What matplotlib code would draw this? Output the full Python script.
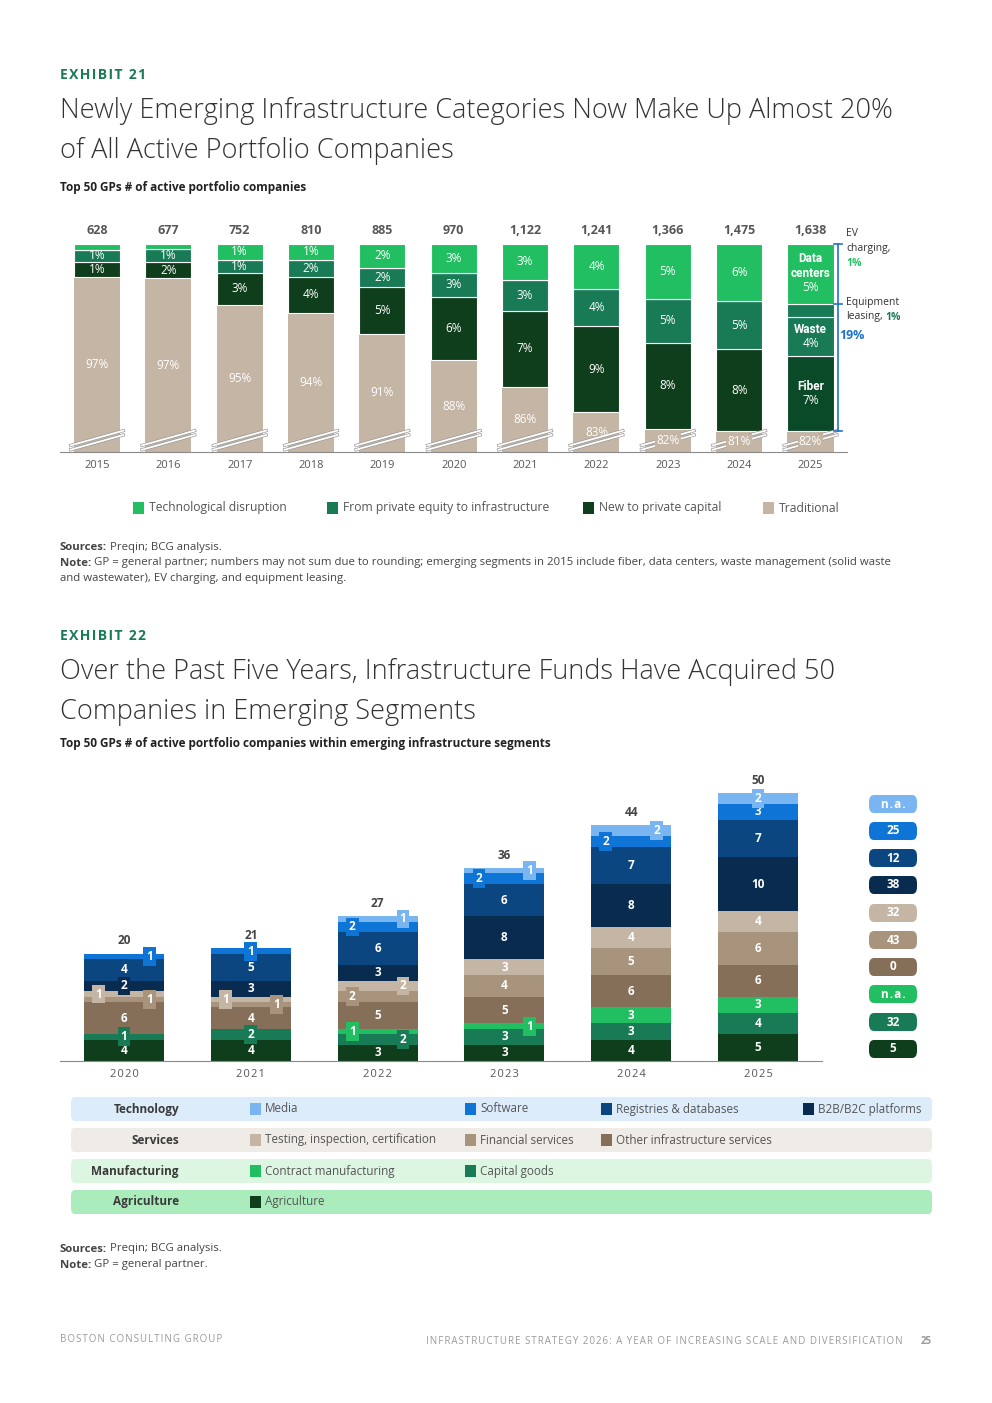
import matplotlib
matplotlib.use("Agg")
import matplotlib.pyplot as plt
from matplotlib.patches import Rectangle, FancyBboxPatch
import matplotlib.patheffects as pe

plt.rcParams['font.family'] = ['Open Sans', 'DejaVu Sans']

W, H = 992, 1403

# ---- Exhibit 21 data (share of active portfolio companies, %) ----
years21 = ['2015', '2016', '2017', '2018', '2019', '2020', '2021', '2022', '2023', '2024', '2025']
totals21 = ['628', '677', '752', '810', '885', '970', '1,122', '1,241', '1,366', '1,475', '1,638']
tech_pct = [0.6, 0.5, 1.6, 1.6, 2.4, 2.9, 3.65, 4.6, 5.55, 5.8, 6.1]
pe_pct = [1.2, 1.3, 1.35, 1.7, 2.0, 2.5, 3.15, 3.7, 4.5, 4.9, 4.0]
equip_pct = [0, 0, 0, 0, 0, 0, 0, 0, 0, 0, 1.3]   # equipment leasing, shown only in 2025
new_pct = [1.5, 1.7, 3.2, 3.75, 4.7, 6.4, 7.7, 8.8, 8.7, 8.25, 7.6]
trad_lbl = ['97%', '97%', '95%', '94%', '91%', '88%', '86%', '83%', '82%', '81%', '82%']
tech_lbl = ['', '', '1%', '1%', '2%', '3%', '3%', '4%', '5%', '6%', '5%']
pe_lbl = ['1%', '1%', '1%', '2%', '2%', '3%', '3%', '4%', '5%', '5%', '4%']
new_lbl = ['1%', '2%', '3%', '4%', '5%', '6%', '7%', '9%', '8%', '8%', '7%']
names_2025 = {'tech': 'Data\ncenters', 'pe': 'Waste', 'new': 'Fiber'}

# ---- Exhibit 22 data (# of companies) ----
years22 = ['2020', '2021', '2022', '2023', '2024', '2025']
agriculture = [4, 4, 3, 3, 4, 5]
capital_goods = [1, 2, 2, 3, 3, 4]
contract_mfg = [0, 0, 1, 1, 3, 3]
other_services = [6, 4, 5, 5, 6, 6]
financial = [1, 1, 2, 4, 5, 6]
testing = [1, 1, 2, 3, 4, 4]
b2b = [2, 3, 3, 8, 8, 10]
registries = [4, 5, 6, 6, 7, 7]
software = [1, 1, 2, 2, 2, 3]
media = [0, 0, 1, 1, 2, 2]
growth = ['5', '32', 'n.a.', '0', '43', '32', '38', '12', '25', 'n.a.']  # bottom to top

GREEN = '#21bf61'
TEAL = '#197a56'
DKGREEN = '#0e3e1b'
BEIGE = '#c4b5a5'
GREY = '#575757'
BLUE = '#1e73c8'

fig = plt.figure(figsize=(W / 100, H / 100), dpi=100)
renderer = fig.canvas.get_renderer()


def fy(py):
    return 1 - py / H


def fx(px):
    return px / W


def ftext(px, py, s, **kw):
    kw.setdefault('va', 'center')
    kw.setdefault('color', '#333333')
    return fig.text(fx(px), fy(py), s, **kw)


def spaced(s):
    # letter spacing with hair spaces
    return '\u200a'.join(s)


def rich(px, py, parts, gap=3, **common):
    # pieces of text with different styles on one line
    cur = px
    for s, kw in parts:
        t = ftext(cur, py, s, **{**common, **kw})
        cur += t.get_window_extent(renderer).width + gap


# ================= Exhibit 21 headings =================
ftext(60, 75, spaced('EXHIBIT 21'), fontsize=10, fontweight='bold', color=TEAL)
ftext(60, 111, 'Newly Emerging Infrastructure Categories Now Make Up Almost 20%', fontsize=19.5,
      fontweight='light', color='#333333')
ftext(60, 151, 'of All Active Portfolio Companies', fontsize=19.5, fontweight='light', color='#333333')
ftext(60, 188, 'Top 50 GPs # of active portfolio companies', fontsize=8.5, fontweight='bold', color='#222222')

# ================= Exhibit 21 chart =================
px_per = 9.85
step = 71.35
ybot = 100 - 208 / px_per
ytop = 100 + 19 / px_per
ax1 = fig.add_axes([fx(60), fy(452), 787 / W, 227 / H])
ax1.set_xlim((60 - 97) / step, (847 - 97) / step)
ax1.set_ylim(ybot, ytop)
x = list(range(len(years21)))
bw = 0.645

trad = [100 - t - p - e - n for t, p, e, n in zip(tech_pct, pe_pct, equip_pct, new_pct)]
b0 = [0] * len(x)
ax1.bar(x, trad, bw, bottom=b0, color=BEIGE, zorder=2)
b1 = trad
new_colors = [DKGREEN] * 10 + ['#0b4a28']
ax1.bar(x, new_pct, bw, bottom=b1, color=new_colors, edgecolor='white', linewidth=0.8, zorder=2)
b2 = [a + b for a, b in zip(b1, new_pct)]
ax1.bar(x, pe_pct, bw, bottom=b2, color=TEAL, edgecolor='white', linewidth=0.8, zorder=2)
b3 = [a + b for a, b in zip(b2, pe_pct)]
ax1.bar(x, equip_pct, bw, bottom=b3, color=TEAL, edgecolor='white', linewidth=0.8, zorder=2)
b4 = [a + b for a, b in zip(b3, equip_pct)]
ax1.bar(x, tech_pct, bw, bottom=b4, color=GREEN, edgecolor='white', linewidth=0.8, zorder=2)

for i in x:
    # axis break marks
    for off in (-0.22, 0.22):
        ax1.plot([i - 0.37, i + 0.37], [ybot + 0.45 + off, ybot + 1.95 + off], color='white', lw=1.3,
                 zorder=4, clip_on=False,
                 path_effects=[pe.Stroke(linewidth=2.3, foreground='#9a9a9a'), pe.Normal()])
    ty = (ybot + trad[i]) / 2
    late = trad[i] - ybot < 3
    ax1.text(i, ty, trad_lbl[i], ha='center', va='center', color='white', fontsize=8.5, zorder=5,
             bbox=dict(boxstyle='square,pad=0.1', fc=BEIGE, ec='none') if late else None)
    if i < 10:
        ax1.text(i, b1[i] + new_pct[i] / 2, new_lbl[i], ha='center', va='center', color='white', fontsize=8.5, zorder=5)
        ax1.text(i, b2[i] + pe_pct[i] / 2, pe_lbl[i], ha='center', va='center', color='white', fontsize=8.5, zorder=5)
        if tech_lbl[i]:
            ax1.text(i, b4[i] + tech_pct[i] / 2, tech_lbl[i], ha='center', va='center', color='white',
                     fontsize=8.5, zorder=5)
    else:
        for key, bot, h, lbl in (('new', b1[i], new_pct[i], new_lbl[i]), ('pe', b2[i], pe_pct[i], pe_lbl[i]),
                                 ('tech', b4[i], tech_pct[i], tech_lbl[i])):
            nlines = names_2025[key].count('\n')
            mid = bot + h / 2 - 0.75 * nlines
            ax1.text(i, mid + 0.1, names_2025[key], ha='center', va='bottom', color='white', fontsize=8.5,
                     fontweight='bold', linespacing=1.25, zorder=5, family=['Roboto', 'DejaVu Sans'])
            ax1.text(i, mid, lbl, ha='center', va='top', color='white', fontsize=8.5, zorder=5)
    ax1.text(i, 100 + 13 / px_per, totals21[i], ha='center', va='center', color=GREY, fontsize=9,
             fontweight='bold')

# 2025 bracket and callouts
xb = (838 - 97) / step
top, mid_tick, bottom = 100, b4[10], b1[10]
ax1.plot([xb, xb], [bottom, top], color=BLUE, lw=1.2, clip_on=False, zorder=6)
for yy in (top, mid_tick, bottom):
    ax1.plot([xb - 0.05, xb + 0.05], [yy, yy], color=BLUE, lw=1.2, clip_on=False, zorder=6)
ax1.text(xb + 0.02, 90.7, '19%', fontsize=9, color=BLUE, fontweight='bold', va='center', clip_on=False)
ftext(846, 234, 'EV', fontsize=7.5)
ftext(846, 248, 'charging,', fontsize=7.5)
ftext(846, 263, '1%', fontsize=7.5, color=GREEN, fontweight='bold')
ftext(846, 302, 'Equipment', fontsize=7.5)
rich(846, 317, [('leasing,', {}), ('1%', dict(color=TEAL, fontweight='bold'))], fontsize=7.5)

ax1.set_xticks(x)
ax1.set_xticklabels(years21, fontsize=8, color=GREY)
ax1.tick_params(axis='x', length=0, pad=6)
ax1.set_yticks([])
for s in ('top', 'right', 'left'):
    ax1.spines[s].set_visible(False)
ax1.spines['bottom'].set_color('#8a8a8a')
ax1.spines['bottom'].set_zorder(6)

# legend exhibit 21
leg21 = [(133, GREEN, 'Technological disruption'), (327, TEAL, 'From private equity to infrastructure'),
         (583, DKGREEN, 'New to private capital'), (763, BEIGE, 'Traditional')]
for px, col, lab in leg21:
    fig.patches.append(Rectangle((fx(px), fy(514)), 11 / W, 12 / H, transform=fig.transFigure,
                                 facecolor=col, edgecolor='none'))
    ftext(px + 16, 508, lab, fontsize=8.7, color='#555555')

note_kw = dict(fontsize=8.2, color='#444444')
rich(60, 548, [('Sources:', dict(fontweight='bold')), ('Preqin; BCG analysis.', {})], **note_kw)
rich(60, 563, [('Note:', dict(fontweight='bold')),
               ('GP = general partner; numbers may not sum due to rounding; emerging segments in 2015 '
                'include fiber, data centers, waste management (solid waste', {})], **note_kw)
ftext(60, 578, 'and wastewater), EV charging, and equipment leasing.', **note_kw)

# ================= Exhibit 22 headings =================
ftext(60, 636, spaced('EXHIBIT 22'), fontsize=10, fontweight='bold', color=TEAL)
ftext(60, 672, 'Over the Past Five Years, Infrastructure Funds Have Acquired 50', fontsize=19.5,
      fontweight='light', color='#333333')
ftext(60, 712, 'Companies in Emerging Segments', fontsize=19.5, fontweight='light', color='#333333')
ftext(60, 744, 'Top 50 GPs # of active portfolio companies within emerging infrastructure segments', fontsize=8.5,
      fontweight='bold', color='#222222')

# ================= Exhibit 22 chart =================
unit = 5.36
ax2 = fig.add_axes([fx(60), fy(1061), 762 / W, 286 / H])
ax2.set_xlim(-0.505, 5.505)
ax2.set_ylim(0, 286 / unit)
x2 = list(range(len(years22)))
bw2 = 0.63

layers = [
    (agriculture, DKGREEN, ['', '', '', '', '', '']),
    (capital_goods, TEAL, ['c', 'c', 'r', '', '', '']),
    (contract_mfg, GREEN, ['', '', 'l', 'r', '', '']),
    (other_services, '#866f58', ['', '', '', '', '', '']),
    (financial, '#a8937c', ['r', 'r', 'l', '', '', '']),
    (testing, '#c4b5a4', ['l', 'l', 'r', '', '', '']),
    (b2b, '#0a2b50', ['c', '', '', '', '', '']),
    (registries, '#0c4680', ['', '', '', '', '', '']),
    (software, '#0e74d6', ['r', 'c', 'l', 'l', 'l', '']),
    (media, '#79b6f1', ['', '', 'r', 'r', 'r', 'c']),
]
offs = {'l': -0.2, 'r': 0.2, 'c': 0.0, '': 0.0}
bottom2 = [0] * len(x2)
for vals, col, pos in layers:
    ax2.bar(x2, vals, bw2, bottom=bottom2, color=col, zorder=2)
    for i, v in enumerate(vals):
        if v == 0:
            continue
        yc = bottom2[i] + v / 2
        if pos[i]:
            ax2.text(i + offs[pos[i]], yc, str(v), ha='center', va='center', color='white', fontsize=8.5,
                     fontweight='bold', zorder=5,
                     bbox=dict(boxstyle='square,pad=0.25', fc=col, ec='none'))
        else:
            ax2.text(i, yc, str(v), ha='center', va='center', color='white', fontsize=8.5,
                     fontweight='bold', zorder=5)
    bottom2 = [a + b for a, b in zip(bottom2, vals)]

for i, t in enumerate(bottom2):
    ax2.text(i, t + 13 / unit, str(t), ha='center', va='center', color='#444444', fontsize=8.5, fontweight='bold')

ax2.set_xticks(x2)
ax2.set_xticklabels([spaced(y) for y in years22], fontsize=8, color=GREY)
ax2.tick_params(axis='x', length=0, pad=6)
ax2.set_yticks([])
for s in ('top', 'right', 'left'):
    ax2.spines[s].set_visible(False)
ax2.spines['bottom'].set_color('#8a8a8a')

# growth badges, top to bottom
badge_y = [804, 831, 858, 885, 913, 940, 967, 994, 1022, 1049]
for (vals, col, pos), g, by in zip(layers[::-1], growth[::-1], badge_y):
    fig.patches.append(FancyBboxPatch((fx(869), fy(by + 9)), 48 / W, 18 / H,
                                      boxstyle='round,pad=0,rounding_size=0.005',
                                      transform=fig.transFigure, facecolor=col, edgecolor='none'))
    ftext(893, by, spaced(g) if g == 'n.a.' else g, ha='center', fontsize=8.5, fontweight='bold', color='white')

# category table
rows = [
    (1109, '#dcecfb', 'Technology', [(250, '#79b6f1', 'Media'), (465, '#0e74d6', 'Software'),
                                     (601, '#0c4680', 'Registries & databases'),
                                     (803, '#0a2b50', 'B2B/B2C platforms')]),
    (1140, '#efebe6', 'Services', [(250, '#c4b5a4', 'Testing, inspection, certification'),
                                   (465, '#a8937c', 'Financial services'),
                                   (601, '#866f58', 'Other infrastructure services')]),
    (1171, '#dcf6e2', 'Manufacturing', [(250, GREEN, 'Contract manufacturing'),
                                        (465, TEAL, 'Capital goods')]),
    (1202, '#aaecbb', 'Agriculture', [(250, DKGREEN, 'Agriculture')]),
]
for ry, bg, name, items in rows:
    fig.patches.append(FancyBboxPatch((fx(71), fy(ry + 12)), 861 / W, 24 / H,
                                      boxstyle='round,pad=0,rounding_size=0.004',
                                      transform=fig.transFigure, facecolor=bg, edgecolor='none', zorder=0))
    ftext(179, ry, name, ha='right', fontsize=8.5, fontweight='bold', color='#3a3a3a')
    for px, col, lab in items:
        fig.patches.append(Rectangle((fx(px), fy(ry + 6)), 11 / W, 12 / H, transform=fig.transFigure,
                                     facecolor=col, edgecolor='none'))
        ftext(px + 15, ry, lab, fontsize=8.4, color='#555555')

rich(60, 1249, [('Sources:', dict(fontweight='bold')), ('Preqin; BCG analysis.', {})], **note_kw)
rich(60, 1265, [('Note:', dict(fontweight='bold')), ('GP = general partner.', {})], **note_kw)

# footer
foot_kw = dict(fontsize=7, color='#9a9a9a')
ftext(60, 1339, spaced('BOSTON CONSULTING GROUP'), **foot_kw)
ftext(903, 1341, spaced('INFRASTRUCTURE STRATEGY 2026: A YEAR OF INCREASING SCALE AND DIVERSIFICATION'),
      ha='right', **foot_kw)
ftext(932, 1341, '25', ha='right', fontsize=7, fontweight='bold', color='#9a9a9a')

fig.savefig('out.png', dpi=100)
